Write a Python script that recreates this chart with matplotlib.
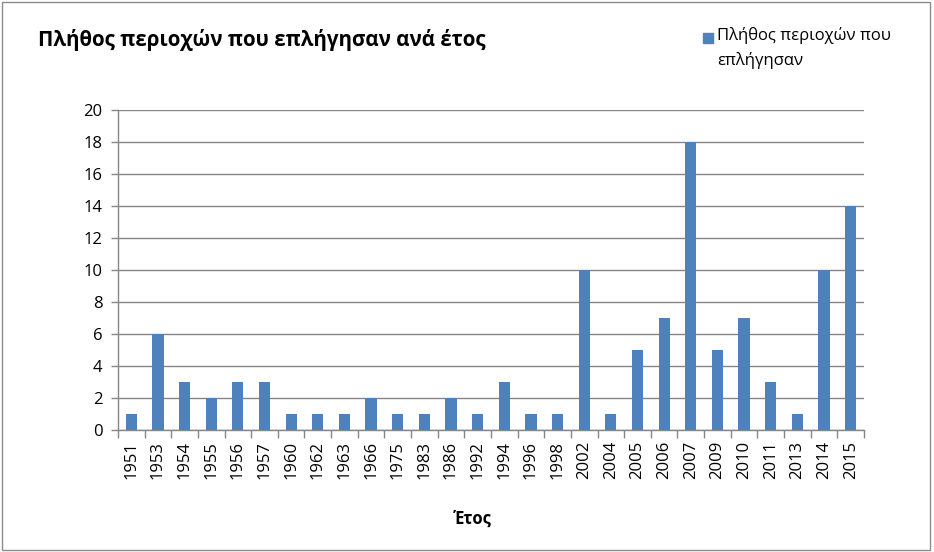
import numpy as np
import matplotlib.pyplot as plt
from matplotlib.patches import Rectangle
from matplotlib.ticker import FixedLocator, NullFormatter

years = ["1951", "1953", "1954", "1955", "1956", "1957", "1960", "1962", "1963",
         "1966", "1975", "1983", "1986", "1992", "1994", "1996", "1998", "2002",
         "2004", "2005", "2006", "2007", "2009", "2010", "2011", "2013", "2014",
         "2015"]
counts = [1, 6, 3, 2, 3, 3, 1, 1, 1, 2, 1, 1, 2, 1, 3, 1, 1, 10, 1, 5, 7, 18,
          5, 7, 3, 1, 10, 14]
y_ticks = list(range(0, 21, 2))

title = "Πλήθος περιοχών που επλήγησαν ανά έτος"
series_name = "Πλήθος περιοχών που\nεπλήγησαν"
x_title = "Έτος"

plt.rcParams["font.family"] = ["Open Sans", "DejaVu Sans"]

bar_color = "#4F81BD"
grid_color = "#868686"

W, H = 934, 552
fig = plt.figure(figsize=(W / 100, H / 100), dpi=100)
ax = fig.add_axes([0.1263, 0.221, 0.7987, 0.5797])

x = np.arange(len(years))
ax.bar(x, counts, width=0.42, color=bar_color, zorder=3)

ax.set_xlim(-0.5, len(years) - 0.5)
ax.set_ylim(0, 20)
ax.set_yticks(y_ticks)
ax.yaxis.grid(True, color=grid_color, linewidth=1)
ax.set_axisbelow(True)

# category labels in the middle, tick marks on the boundaries
ax.set_xticks(x)
ax.set_xticklabels(years, rotation=90, fontsize=12)
ax.tick_params(axis="x", which="major", length=0, pad=8)
ax.xaxis.set_minor_locator(FixedLocator(np.arange(-0.5, len(years), 1)))
ax.xaxis.set_minor_formatter(NullFormatter())
ax.tick_params(axis="x", which="minor", length=6, color=grid_color, width=1)
ax.tick_params(axis="y", length=5, color=grid_color, width=1, labelsize=12, pad=6)

for side in ["top", "right"]:
    ax.spines[side].set_visible(False)
for side in ["left", "bottom"]:
    ax.spines[side].set_color(grid_color)
    ax.spines[side].set_linewidth(1)

fig.text(38 / W, 1 - 40 / H, title, fontsize=14.8, fontweight="bold",
         va="center", ha="left")
fig.text(473 / W, 1 - 519 / H, x_title, fontsize=12, fontweight="bold",
         va="center", ha="center")

# legend: swatch next to the first line of the wrapped series name
fig.patches.append(Rectangle((703 / W, 1 - 43 / H), 10 / W, 10 / H,
                             transform=fig.transFigure, color=bar_color))
fig.text(717 / W, 1 - 27 / H, series_name, fontsize=12, va="top", ha="left",
         linespacing=1.6)

# chart area outline
fig.patches.append(Rectangle((0.002, 0.004), 0.994, 0.992, transform=fig.transFigure,
                             fill=False, edgecolor="#8c8c8c", linewidth=1))

fig.savefig("out.png", dpi=100)
